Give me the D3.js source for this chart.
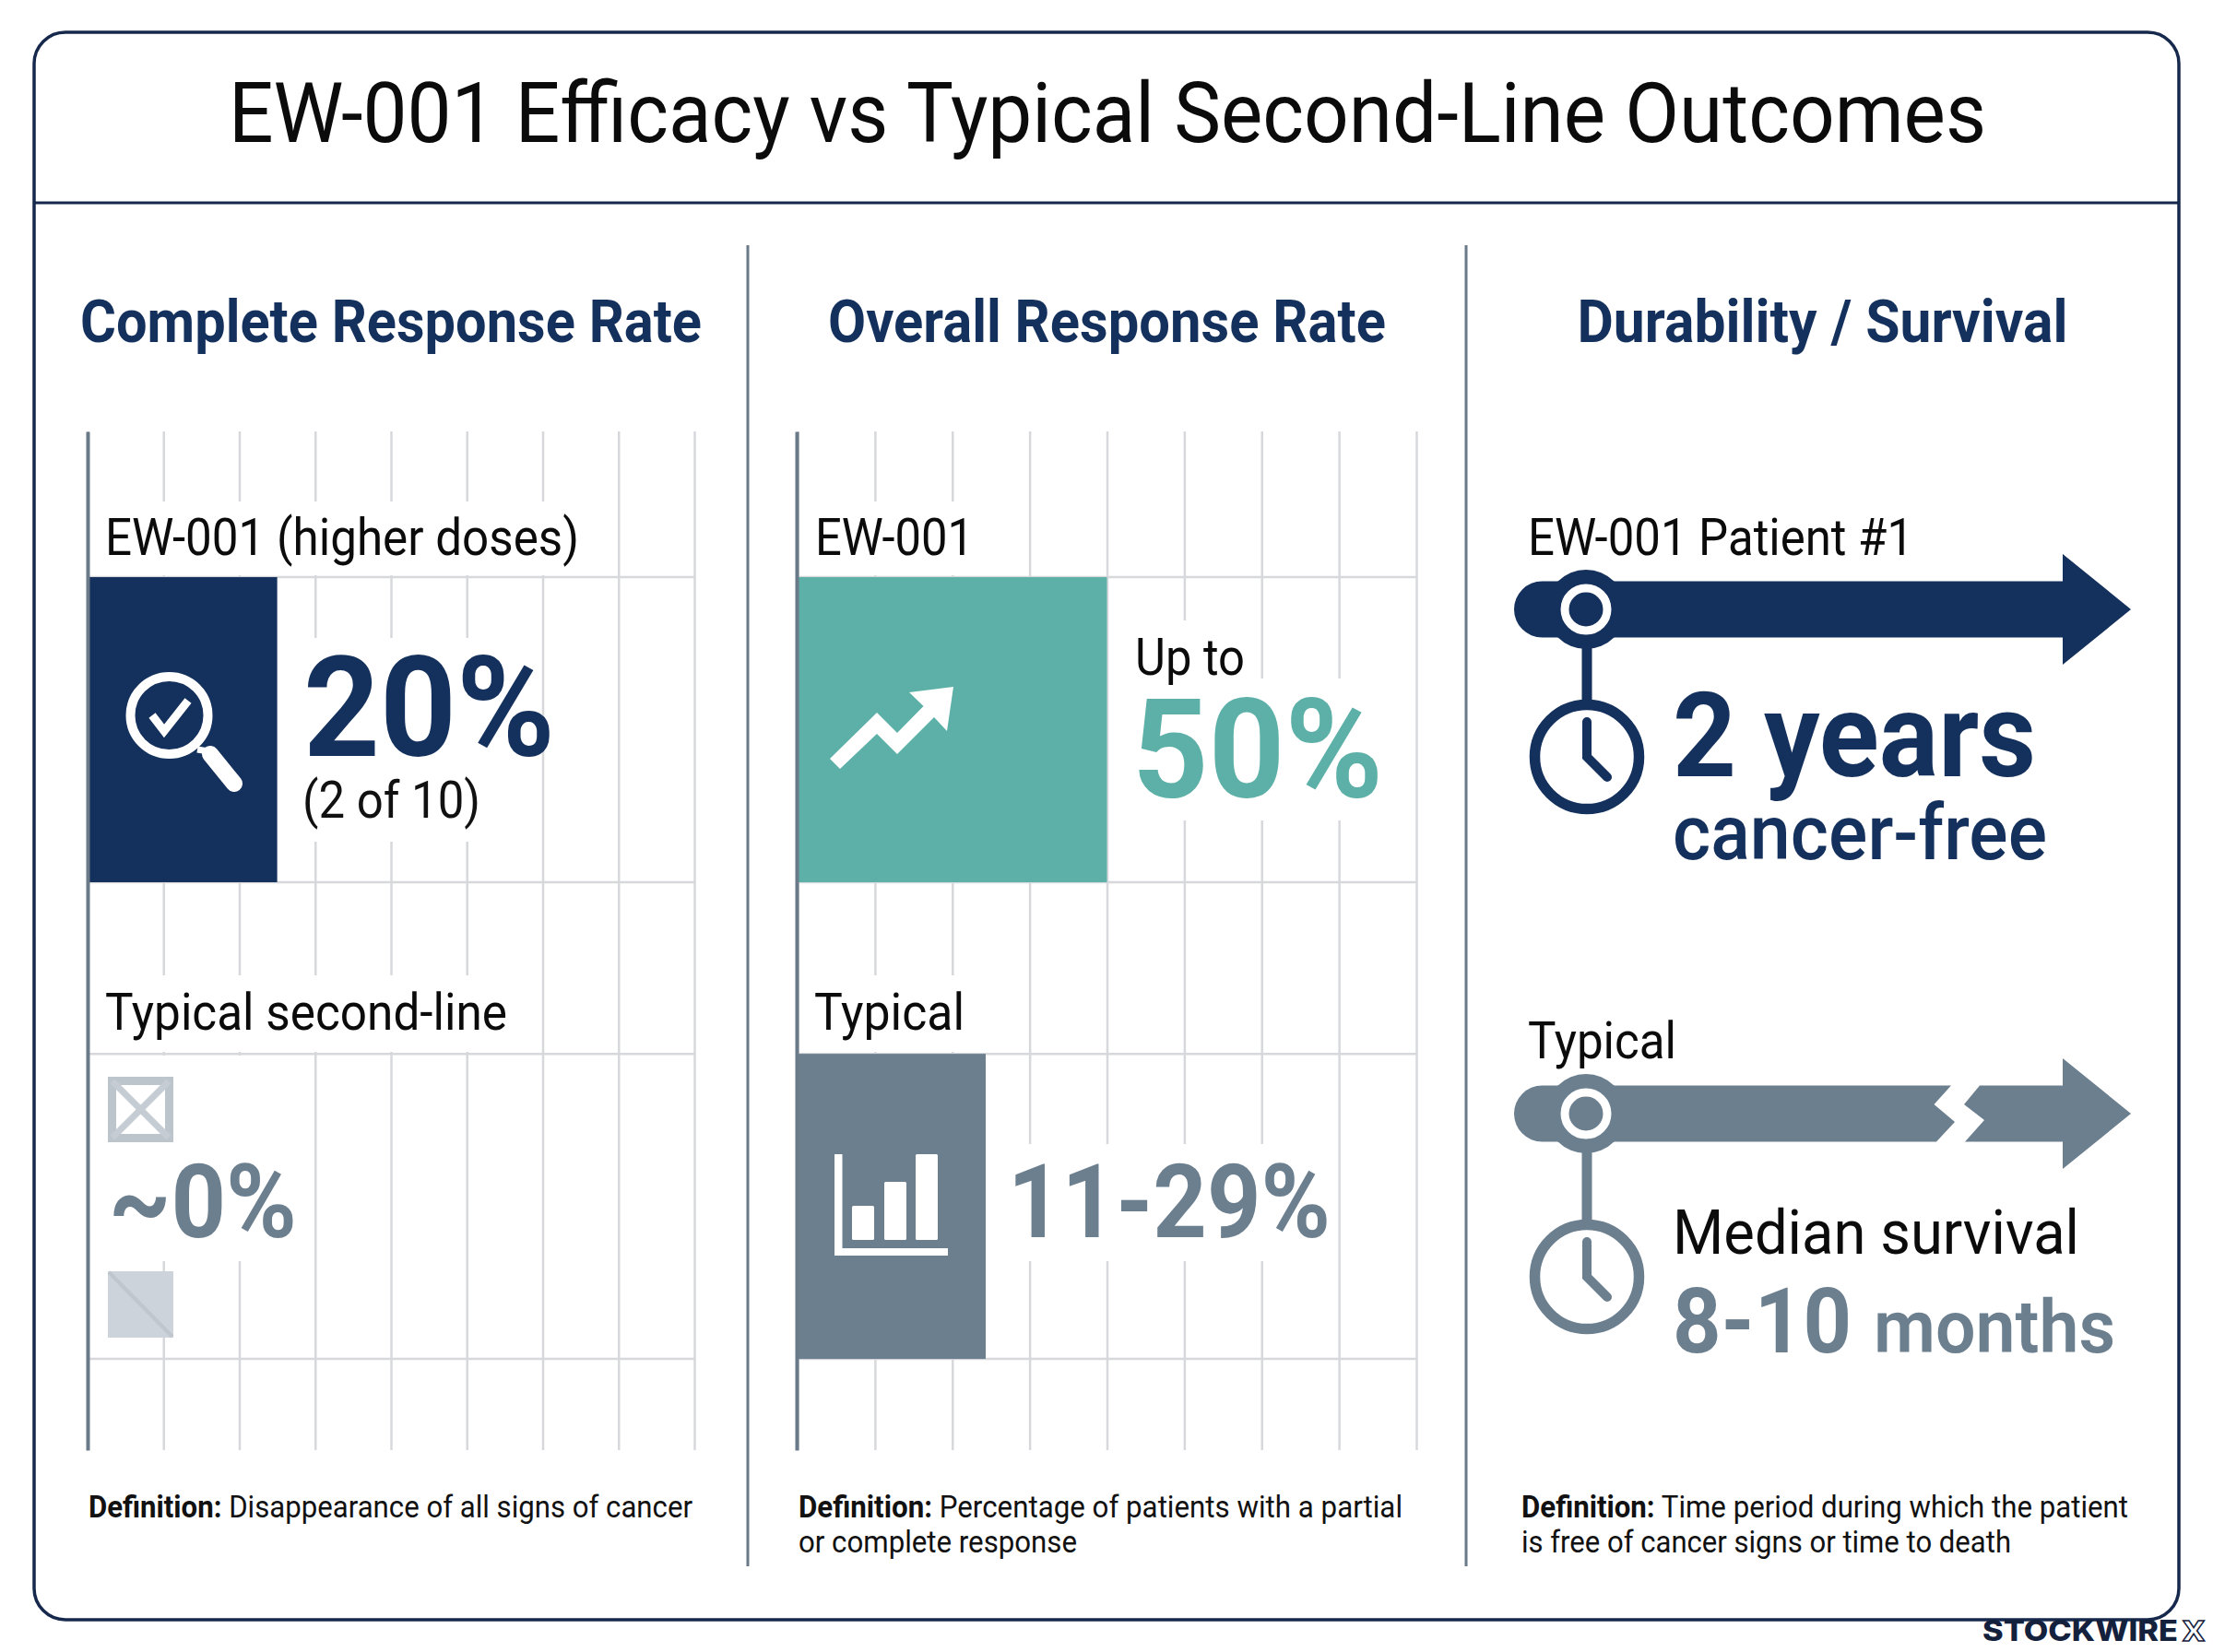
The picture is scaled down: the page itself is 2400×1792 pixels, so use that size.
<!DOCTYPE html>
<html><head><meta charset="utf-8">
<script src="https://cdn.jsdelivr.net/npm/d3@7/dist/d3.min.js"></script>
<style>html,body{margin:0;padding:0;background:#fff}svg{display:block}text{font-family:Roboto,sans-serif}</style>
</head><body><svg id="c" width="2400" height="1792" viewBox="0 0 2400 1792"></svg>
<script>
const chartTitle = "EW-001 Efficacy vs Typical Second-Line Outcomes";
const panelTitles = ["Complete Response Rate", "Overall Response Rate", "Durability / Survival"];
const crCategories = ["EW-001 (higher doses)", "Typical second-line"];
const crValues = [20, 0];
const orrCategories = ["EW-001", "Typical"];
const orrValues = [50, 30.4];
const survivalLabels = ["EW-001 Patient #1", "Typical"];
const crDomain = [0, 64];
const orrDomain = [0, 100];
const crTicks = d3.range(0, 65, 8);
const orrTicks = d3.range(0, 101, 12.5);

const NAVY = "#14305c", TEAL = "#5cb0a7", SLATE = "#6c7f8f", GRID = "#d6d8dc", AXIS = "#6b7a88", LINE = "#16294d";
const svg = d3.select("#c");
svg.append("rect").attr("width", 2400).attr("height", 1792).attr("fill", "#fff");

function txt(g, s, x, y, size, weight, fill, width, anchor) {
  const t = g.append("text").attr("x", x).attr("y", y).attr("font-size", size)
    .attr("font-weight", weight).attr("fill", fill).attr("text-anchor", anchor || "start").text(s);
  if (width) t.attr("textLength", width).attr("lengthAdjust", "spacingAndGlyphs");
  return t;
}

// frame
svg.append("rect").attr("x", 37).attr("y", 35).attr("width", 2326).attr("height", 1722).attr("rx", 34)
  .attr("fill", "#fff").attr("stroke", LINE).attr("stroke-width", 3.5);
svg.append("line").attr("x1", 37).attr("x2", 2363).attr("y1", 220).attr("y2", 220).attr("stroke", LINE).attr("stroke-width", 3);
txt(svg, chartTitle, 1201, 154, 91, 400, "#0b0b0b", 1906, "middle");

// dividers
[811, 1590].forEach(x => svg.append("line").attr("x1", x).attr("x2", x).attr("y1", 266).attr("y2", 1699)
  .attr("stroke", AXIS).attr("stroke-width", 3));

// panel titles
const titleW = [674, 605, 532], titleX = [424, 1200.5, 1976.5];
panelTitles.forEach((t, i) => txt(svg, t, titleX[i], 371, 64, 700, NAVY, titleW[i], "middle"));

function gridPanel(cats, xScale, ticks, masks) {
  const y = d3.scaleBand().domain(cats).range([468, 1573]).paddingInner(0.36).paddingOuter(0.2485).align(0.615);
  const g = svg.append("g");
  const [x0, x1] = xScale.range();
  const vg = g.append("g").attr("transform", "translate(0,1573)")
    .call(d3.axisBottom(xScale).tickValues(ticks).tickSize(-(1573 - 468)).tickFormat(""));
  vg.select(".domain").remove();
  vg.selectAll("line").attr("stroke", GRID).attr("stroke-width", 2.5);
  const rows = cats.flatMap(c => [y(c), y(c) + y.bandwidth()]);
  g.selectAll(".h").data(rows).join("line").attr("x1", x0).attr("x2", x1)
    .attr("y1", d => d).attr("y2", d => d).attr("stroke", GRID).attr("stroke-width", 2.5);
  g.selectAll(".m").data(masks).join("rect").attr("x", d => d[0]).attr("y", d => d[1])
    .attr("width", d => d[2] - d[0]).attr("height", d => d[3] - d[1]).attr("fill", "#fff");
  return { g, y };
}
function leftAxis(g, y, x) {
  const a = g.append("g").attr("transform", `translate(${x},0)`)
    .call(d3.axisLeft(y).tickSize(0).tickFormat(""));
  a.select(".domain").attr("stroke", AXIS).attr("stroke-width", 4);
}

// Panel 1
const x1 = d3.scaleLinear().domain(crDomain).range([95, 753]);
const p1 = gridPanel(crCategories, x1, crTicks, [
  [98, 544, 635, 624], [305, 692, 560, 843], [305, 843, 520, 913],
  [98, 1058, 560, 1141], [98, 1145, 300, 1242], [98, 1242, 325, 1368]
]);
p1.g.selectAll(".bar").data(crCategories.map((c, i) => ({ c, v: crValues[i] })).filter(d => d.v > 0)).join("rect")
  .attr("x", x1(0)).attr("y", d => p1.y(d.c)).attr("width", d => x1(d.v) - x1(0)).attr("height", p1.y.bandwidth()).attr("fill", NAVY);
leftAxis(p1.g, p1.y, 95);
txt(p1.g, crCategories[0], 114, 602, 56, 400, "#0b0b0b", 514);
txt(p1.g, crCategories[1], 114, 1117, 56, 400, "#0b0b0b", 436);
txt(p1.g, crValues[0] + "%", 329, 820, 152, 700, NAVY, 273);
txt(p1.g, "(2 of 10)", 328, 887, 56, 400, "#111", 193);
txt(p1.g, "~0%", 118, 1342, 112, 700, SLATE, 204);
// magnifier
const mag = p1.g.append("g").attr("fill", "none").attr("stroke", "#fff");
mag.append("circle").attr("cx", 183.5).attr("cy", 776).attr("r", 42).attr("stroke-width", 10);
mag.append("path").attr("d", "M165,776L178,793L204,760").attr("stroke-width", 9);
mag.append("path").attr("d", "M214,813L226,815").attr("stroke-width", 7);
mag.append("path").attr("d", "M228,818L254,850").attr("stroke-width", 18).attr("stroke-linecap", "round");
// placeholder boxes
const b1 = p1.g.append("g");
b1.append("rect").attr("x", 121.5).attr("y", 1172.5).attr("width", 62).attr("height", 62).attr("fill", "#fff").attr("stroke", "#bcc4cc").attr("stroke-width", 9);
b1.append("path").attr("d", "M122,1173L183,1234M183,1173L122,1234").attr("stroke", "#c6ccd3").attr("stroke-width", 7);
b1.append("rect").attr("x", 117).attr("y", 1379).attr("width", 71).attr("height", 72).attr("fill", "#cdd3da");
b1.append("path").attr("d", "M118,1380L187,1450").attr("stroke", "#bfc6ce").attr("stroke-width", 4);

// Panel 2
const x2 = d3.scaleLinear().domain(orrDomain).range([865, 1536]);
const p2 = gridPanel(orrCategories, x2, orrTicks, [
  [868, 544, 1085, 624], [1205, 673, 1345, 736], [1205, 736, 1510, 890],
  [868, 1058, 1085, 1141], [1075, 1241, 1430, 1368]
]);
p2.g.selectAll(".bar").data(orrCategories.map((c, i) => ({ c, v: orrValues[i] }))).join("rect")
  .attr("x", x2(0)).attr("y", d => p2.y(d.c)).attr("width", d => x2(d.v) - x2(0)).attr("height", p2.y.bandwidth())
  .attr("fill", (d, i) => i ? SLATE : TEAL);
leftAxis(p2.g, p2.y, 864);
txt(p2.g, orrCategories[0], 884, 602, 56, 400, "#0b0b0b", 172);
txt(p2.g, orrCategories[1], 883, 1117, 56, 400, "#0b0b0b", 163);
txt(p2.g, "Up to", 1231, 732, 56, 400, "#0b0b0b", 119);
txt(p2.g, orrValues[0] + "%", 1228, 865, 150, 700, TEAL, 272);
txt(p2.g, "11-29%", 1093, 1342, 112, 700, SLATE, 350);
p2.g.append("path").attr("fill", "#fff")
  .attr("d", "M900,823L951,773L973,795L1001.5,766L986,751L1034,745L1027,793L1013,778L973,818L951,796L911,834Z");
const ic = p2.g.append("g").attr("fill", "#fff");
ic.append("path").attr("d", "M905,1252H913.5V1354H1028V1362H905Z");
ic.append("rect").attr("x", 924).attr("y", 1308).attr("width", 24).attr("height", 37).attr("rx", 1.5);
ic.append("rect").attr("x", 959).attr("y", 1282).attr("width", 24).attr("height", 63).attr("rx", 1.5);
ic.append("rect").attr("x", 993).attr("y", 1252).attr("width", 24).attr("height", 93).attr("rx", 1.5);

// Panel 3
function timeline(cy, clockY, color, broken) {
  const g = svg.append("g");
  const top = cy - 30.5, bot = cy + 30.5, L = 1642, r = 30.5;
  if (broken) {
    g.append("path").attr("fill", color).attr("d",
      `M${L + r},${top}H2116L2097.5,${cy - 10}L2120,${cy + 9}L2100,${bot}H${L + r}A${r},${r} 0 0 1 ${L + r},${top}Z`);
    g.append("path").attr("fill", color).attr("d",
      `M2147,${top}H2237V${cy - 60}L2311,${cy}L2237,${cy + 60}V${bot}H2131L2152,${cy + 7}L2130,${cy - 10}Z`);
  } else {
    g.append("path").attr("fill", color).attr("d",
      `M${L + r},${top}H2237V${cy - 60}L2311,${cy}L2237,${cy + 60}V${bot}H${L + r}A${r},${r} 0 0 1 ${L + r},${top}Z`);
  }
  g.append("circle").attr("cx", 1720).attr("cy", cy).attr("r", 43).attr("fill", color);
  g.append("circle").attr("cx", 1720).attr("cy", cy).attr("r", 23).attr("fill", color).attr("stroke", "#fff").attr("stroke-width", 9);
  g.append("line").attr("x1", 1721).attr("x2", 1721).attr("y1", cy + 40).attr("y2", clockY - 58).attr("stroke", color).attr("stroke-width", 11);
  g.append("circle").attr("cx", 1721).attr("cy", clockY).attr("r", 56.5).attr("fill", "#fff").attr("stroke", color).attr("stroke-width", 11.5);
  g.append("path").attr("fill", "none").attr("stroke", color).attr("stroke-width", 10).attr("stroke-linecap", "round").attr("stroke-linejoin", "miter")
    .attr("d", `M1721,${clockY - 38}V${clockY}L1743,${clockY + 22}`);
  return g;
}
const t1 = timeline(661, 821, NAVY, false);
txt(t1, survivalLabels[0], 1657, 602, 56, 400, "#0b0b0b", 418);
txt(t1, "2 years", 1814, 842, 128, 700, NAVY, 394);
txt(t1, "cancer-free", 1814, 932, 84, 500, NAVY, 406);
const t2 = timeline(1208, 1385, SLATE, true);
txt(t2, survivalLabels[1], 1657, 1148, 56, 400, "#0b0b0b", 161);
txt(t2, "Median survival", 1814, 1360, 67, 400, "#0b0b0b", 441);
txt(t2, "8-10", 1814, 1467, 98, 700, SLATE, 194);
txt(t2, "months", 2032, 1467, 80, 600, SLATE, 262);

// definitions
function def(x, y, rest, width) {
  const t = svg.append("text").attr("x", x).attr("y", y).attr("font-size", 33).attr("fill", "#111");
  t.append("tspan").attr("font-weight", 700).text("Definition:");
  t.append("tspan").attr("font-weight", 400).text(" " + rest);
  t.attr("textLength", width).attr("lengthAdjust", "spacingAndGlyphs");
}
function line2(x, y, s, w) { txt(svg, s, x, y, 33, 400, "#111", w); }
def(96, 1646, "Disappearance of all signs of cancer", 655);
def(866, 1646, "Percentage of patients with a partial", 655);
line2(866, 1684, "or complete response", 302);
def(1650, 1646, "Time period during which the patient", 658);
line2(1650, 1684, "is free of cancer signs or time to death", 531);

// watermark
txt(svg, "STOCKWIRE", 2150, 1780, 31, 800, "#14213d", 212).style("font-family", "Inter,Roboto,sans-serif");
txt(svg, "X", 2367, 1780, 32, 700, "#fff", 24).attr("stroke", "#14213d").attr("stroke-width", 1.4);
</script></body></html>
